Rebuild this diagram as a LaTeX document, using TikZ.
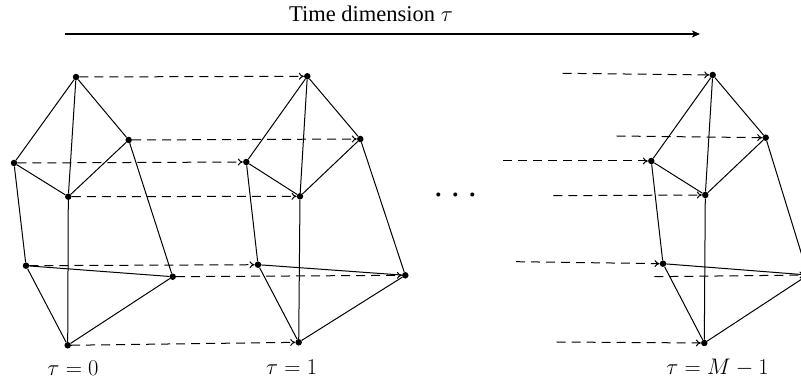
\RequirePackage{fix-cm}
\documentclass[tikz,border=0pt]{standalone}
\usepackage{fontspec}
\newfontfamily\timesfont{Liberation Serif}
\usetikzlibrary{arrows.meta}
\begin{document}
\begin{tikzpicture}[x=1pt,y=-1pt,
  vtx/.style={circle,fill=black,inner sep=0pt,minimum size=6.5pt},
  edge/.style={line width=1pt},
  link/.style={line width=1pt,dash pattern=on 9pt off 6pt,-{To[length=5pt,width=7pt]}},
  lab/.style={anchor=base,font=\fontsize{22.5}{27}\selectfont},
  timearrow/.style={line width=2pt,-{Stealth[length=8pt,width=7pt,inset=2pt]}}]
\clip (0,0) rectangle (801,379);
% title
\coordinate (t0) at (65,34);
\coordinate (t1) at (700,34);
\draw[timearrow] (t0) -- (t1);
\node[lab,font=\fontsize{22.5}{27}\timesfont] (title) at (371,21.5) {Time dimension $\tau$};
% graph 0
\node[vtx] (a0) at (76,77) {};
\node[vtx] (b0) at (128.7,140) {};
\node[vtx] (c0) at (14,163) {};
\node[vtx] (d0) at (68.3,196.7) {};
\node[vtx] (e0) at (26,265.7) {};
\node[vtx] (f0) at (172.7,276.7) {};
\node[vtx] (g0) at (67.7,345.3) {};
% graph 1
\node[vtx] (a1) at (307.3,76.3) {};
\node[vtx] (b1) at (360.3,139) {};
\node[vtx] (c1) at (246.3,162) {};
\node[vtx] (d1) at (300,196.3) {};
\node[vtx] (e1) at (258,264.7) {};
\node[vtx] (f1) at (405.3,275.3) {};
\node[vtx] (g1) at (298.7,342.3) {};
% graph M-1
\node[vtx] (a2) at (712.7,75) {};
\node[vtx] (b2) at (765.7,137.7) {};
\node[vtx] (c2) at (651.3,161) {};
\node[vtx] (d2) at (705.3,195) {};
\node[vtx] (e2) at (663,263.7) {};
\node[vtx] (f2) at (808,275) {};
\node[vtx] (g2) at (704.3,343) {};
% edges
\foreach \i in {0,1,2}{
  \draw[edge] (a\i) -- (c\i);
  \draw[edge] (a\i) -- (d\i);
  \draw[edge] (a\i) -- (b\i);
  \draw[edge] (c\i) -- (d\i);
  \draw[edge] (d\i) -- (b\i);
  \draw[edge] (c\i) -- (e\i);
  \draw[edge] (d\i) -- (g\i);
  \draw[edge] (b\i) -- (f\i);
  \draw[edge] (e\i) -- (f\i);
  \draw[edge] (e\i) -- (g\i);
  \draw[edge] (g\i) -- (f\i);
}
% temporal links 0 -> 1
\foreach \v in {a,b,c,d,e,f,g}{
  \draw[link] (\v0) -- (\v1);
}
% incoming links to M-1
\coordinate (sa) at (562.7,73.3);
\coordinate (sb) at (616.7,136);
\coordinate (sc) at (503.3,161);
\coordinate (sd) at (553.3,195.7);
\coordinate (se) at (516,261.7);
\coordinate (sf) at (654.3,276.7);
\coordinate (sg) at (556.7,342);
\foreach \v in {a,b,c,d,e,f,g}{
  \draw[link] (s\v) -- (\v2);
}
% dots
\node[font=\fontsize{38}{40}\selectfont] (dots) at (455.5,196) {$\cdots$};
% labels
\node[lab] (l0) at (73,375.5) {$\tau=0$};
\node[lab] (l1) at (291.7,374.5) {$\tau=1$};
\node[lab] (l2) at (717.5,374.5) {$\tau=M-1$};
\end{tikzpicture}
\end{document}
